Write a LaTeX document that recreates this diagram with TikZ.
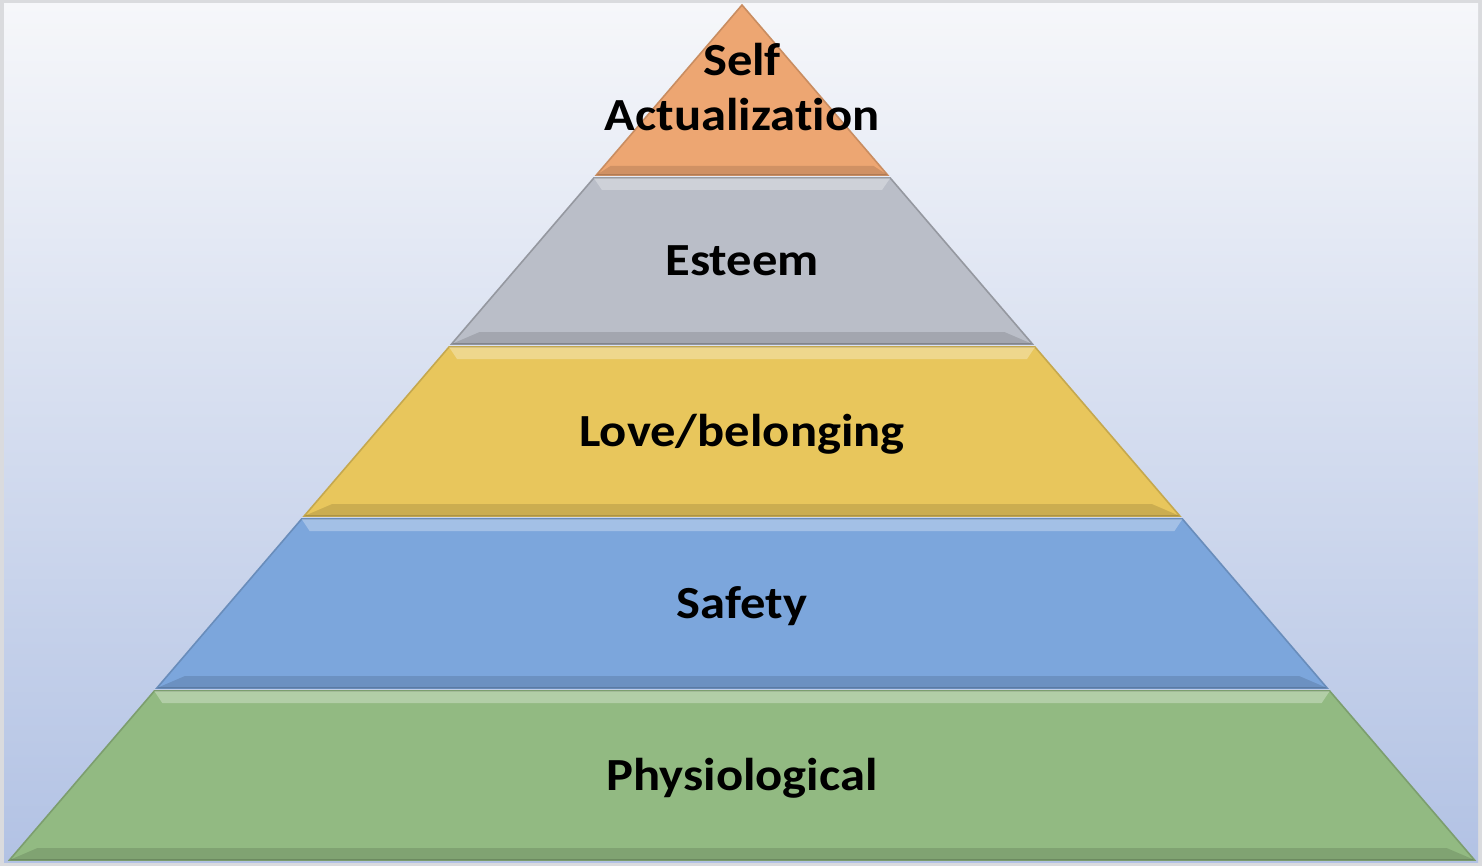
\documentclass[tikz,border=0pt]{standalone}
\usepackage{fontspec}
\setmainfont[Ligatures=NoCommon, FakeStretch=1.1]{Carlito}
\definecolor{myFrame}{RGB}{218,219,222}
\definecolor{mySkyTop}{RGB}{246,247,250}
\definecolor{mySkyBot}{RGB}{178,194,228}
\definecolor{myOrange}{RGB}{237,166,114}
\definecolor{myGray}{RGB}{186,190,200}
\definecolor{myYellow}{RGB}{232,198,92}
\definecolor{myBlue}{RGB}{124,166,220}
\definecolor{myGreen}{RGB}{146,186,130}
\usetikzlibrary{positioning}

\begin{document}
\begin{tikzpicture}[x=0.5pt,y=-0.5pt,
        tier/.style={line width=0.8pt},
        lit/.style={fill=white, fill opacity=0.3},
        dim/.style={fill=black, fill opacity=0.12},
        lbl/.style={font=\bfseries\fontsize{23}{27.5}\selectfont, align=center, anchor=base}]
                \useasboundingbox (0,0) rectangle (1482,866);
                \fill[myFrame] (0,0) rectangle (1482,866);
                \shade[top color=mySkyTop, bottom color=mySkyBot] (4,4) rectangle (1478,862);

                % apex
                \draw[tier, fill=myOrange, draw=myOrange!85!black] (742,5) -- (887.6,175) -- (596.4,175) -- cycle;
                \fill[dim] (596.4,175) -- (887.6,175) -- (873.6,166) -- (610.4,166) -- cycle;

                \draw[tier, fill=myGray, draw=myGray!80!black] (593.8,178) -- (890.2,178) -- (1032.4,344) -- (451.6,344) -- cycle;
                \fill[lit] (593.8,178) -- (890.2,178) -- (882,190) -- (602,190) -- cycle;
                \fill[dim] (451.6,344) -- (1032.4,344) -- (1004.4,332) -- (479.6,332) -- cycle;

                \draw[tier, fill=myYellow, draw=myYellow!85!black] (449,347) -- (1035,347) -- (1179.8,516) -- (304.2,516) -- cycle;
                \fill[lit] (449,347) -- (1035,347) -- (1027,359) -- (457,359) -- cycle;
                \fill[dim] (304.2,516) -- (1179.8,516) -- (1151.8,504) -- (332.2,504) -- cycle;

                \draw[tier, fill=myBlue, draw=myBlue!85!black] (301.6,519) -- (1182.4,519) -- (1327.1,688) -- (156.9,688) -- cycle;
                \fill[lit] (301.6,519) -- (1182.4,519) -- (1174.4,531) -- (309.6,531) -- cycle;
                \fill[dim] (156.9,688) -- (1327.1,688) -- (1299.1,676) -- (184.9,676) -- cycle;

                \draw[tier, fill=myGreen, draw=myGreen!85!black] (154.3,691) -- (1329.7,691) -- (1474.5,860) -- (9.5,860) -- cycle;
                \fill[lit] (154.3,691) -- (1329.7,691) -- (1321.7,703) -- (162.3,703) -- cycle;
                \fill[dim] (9.5,860) -- (1474.5,860) -- (1446.5,848) -- (37.5,848) -- cycle;

                \node[lbl] (self) at (742,131) {Self\\Actualization};
                \node[lbl] (esteem) at (742,276) {Esteem};
                \node[lbl] (love) at (742,446) {Love/belonging};
                \node[lbl] (safety) at (742,618) {Safety};
                \node[lbl] (physio) at (742,790) {Physiological};
            \end{tikzpicture}
\end{document}
